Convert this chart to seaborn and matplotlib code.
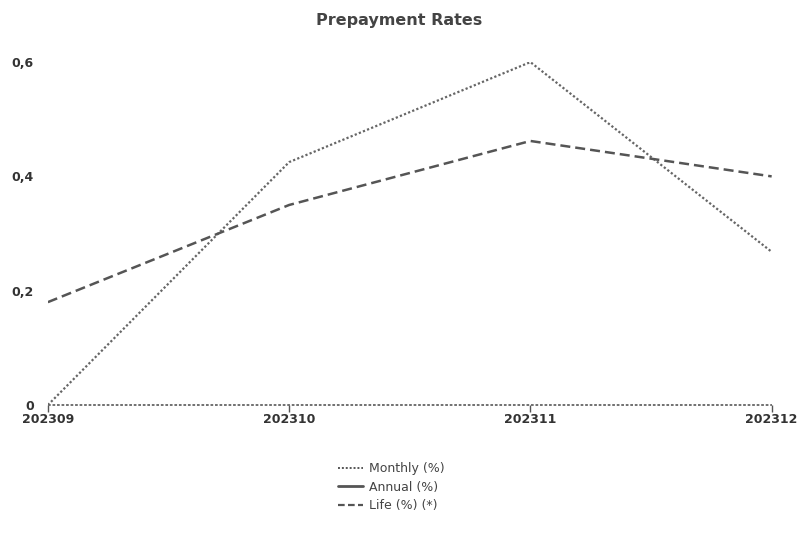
import numpy as np
import pandas as pd
import seaborn as sns
import matplotlib.pyplot as plt
from matplotlib.lines import Line2D
from matplotlib.ticker import FuncFormatter

periods = ["202309", "202310", "202311", "202312"]
monthly = [0.0, 0.425, 0.60, 0.268]
annual = [np.nan, np.nan, np.nan, np.nan]
life = [0.18, 0.35, 0.462, 0.40]

df = pd.DataFrame({"Period": periods, "Monthly (%)": monthly,
                   "Annual (%)": annual, "Life (%) (*)": life})
df["x"] = range(len(periods))

sns.set_style("white")
plt.rcParams['font.family'] = ['DejaVu Sans']
fig = plt.figure(figsize=(7.98, 5.4), dpi=100)
ax = fig.add_axes([0.06, 0.25, 0.907, 0.635])

line_col = "#555555"
sns.lineplot(x="x", y="Monthly (%)", data=df, ax=ax, color="#666666",
             linestyle=(0, (1, 1)), linewidth=1.6)
sns.lineplot(x="x", y="Life (%) (*)", data=df, ax=ax, color=line_col,
             linestyle=(0, (4, 2)), linewidth=1.8)

ax.set_xlim(0, len(periods) - 1)
ax.set_ylim(0, 0.6)
ax.set_xticks(df["x"])
ax.set_xticklabels(periods)
ax.set_yticks([0, 0.2, 0.4, 0.6])
ax.yaxis.set_major_formatter(FuncFormatter(lambda v, p: "0" if v == 0 else f"{v:.1f}".replace(".", ",")))
ax.set_xlabel("")
ax.set_ylabel("")

for s in ["top", "right", "left", "bottom"]:
    ax.spines[s].set_visible(False)
ax.axhline(0, color="#666666", linestyle=(0, (1.5, 1)), linewidth=1.3, clip_on=False)
ax.tick_params(axis="x", bottom=True, length=5, width=1, color="#555555", direction="out",
               labelsize=9, labelcolor="#333333", pad=1)
ax.tick_params(axis="y", length=0, labelsize=9, labelcolor="#333333", pad=10)
for lbl in ax.get_xticklabels() + ax.get_yticklabels():
    lbl.set_fontweight("bold")

fig.suptitle("Prepayment Rates", x=0.5, y=0.975, fontsize=11.5,
             fontweight="bold", color="#444444")

handles = [
    Line2D([], [], color=line_col, linestyle=(0, (1, 1)), linewidth=1.4),
    Line2D([], [], color=line_col, linestyle="-", linewidth=2.0),
    Line2D([], [], color=line_col, linestyle=(0, (3, 1.5)), linewidth=1.6),
]
fig.legend(handles, ["Monthly (%)", "Annual (%)", "Life (%) (*)"],
           loc="upper center", bbox_to_anchor=(0.49, 0.165), frameon=False,
           fontsize=9, handlelength=2.0, handletextpad=0.5, labelspacing=0.45,
           labelcolor="#444444")

fig.savefig("out.png", dpi=100)
